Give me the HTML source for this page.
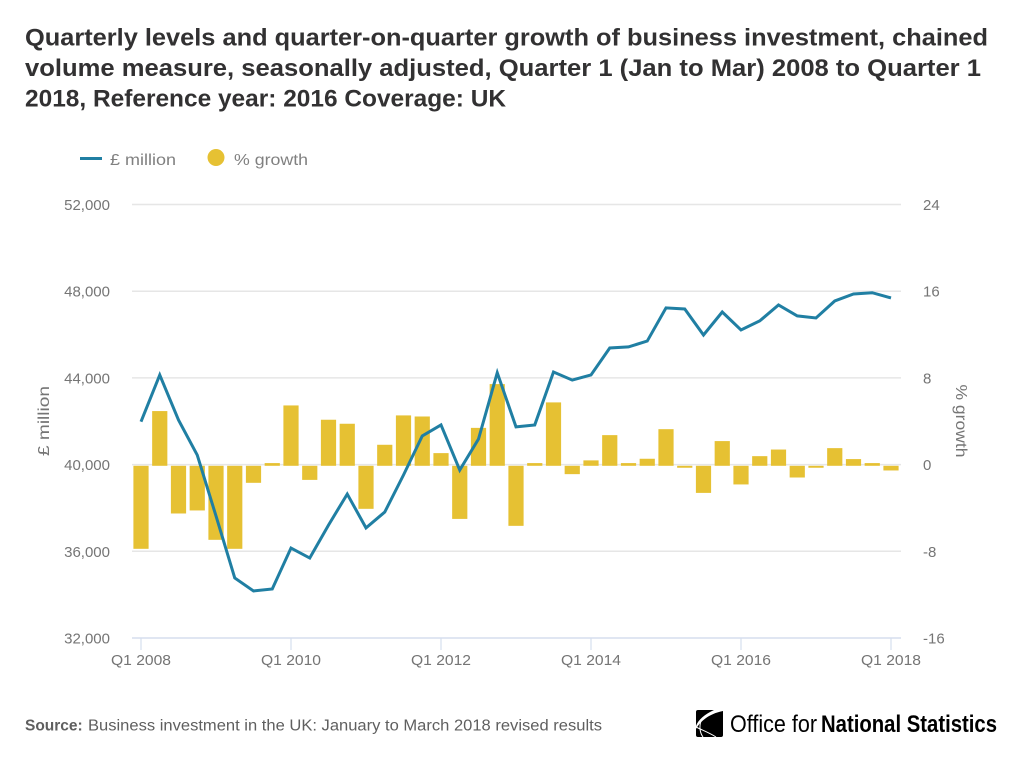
<!DOCTYPE html>
<html lang="en">
<head>
<meta charset="utf-8">
<title>Quarterly levels and growth of business investment</title>
<style>
html,body{margin:0;padding:0;background:#fff;}
svg{display:block;font-family:"Liberation Sans",sans-serif;}
.title{font-size:24px;font-weight:700;fill:#323132;}
.tick{font-size:15px;fill:#757575;}
.legend{font-size:16px;fill:#808080;}
</style>
</head>
<body>
<svg id="chart" width="1024" height="761" viewBox="0 0 1024 761" xmlns="http://www.w3.org/2000/svg">
  <rect width="1024" height="761" fill="#fff"/>
  <g>
    <text class="title" x="25" y="45.5" textLength="963" lengthAdjust="spacingAndGlyphs">Quarterly levels and quarter-on-quarter growth of business investment, chained</text>
    <text class="title" x="25" y="76" textLength="956" lengthAdjust="spacingAndGlyphs">volume measure, seasonally adjusted, Quarter 1 (Jan to Mar) 2008 to Quarter 1</text>
    <text class="title" x="25" y="106.5" textLength="481" lengthAdjust="spacingAndGlyphs">2018, Reference year: 2016 Coverage: UK</text>
  </g>
  <g>
    <g>
      <line x1="80" y1="158.5" x2="102" y2="158.5" stroke="#207fa3" stroke-width="3"/>
      <text class="legend" x="110" y="165" textLength="66" lengthAdjust="spacingAndGlyphs">£ million</text>
    </g>
    <g>
      <circle cx="216" cy="157.5" r="8.5" fill="#e6c133"/>
      <text class="legend" x="234" y="165" textLength="74" lengthAdjust="spacingAndGlyphs">% growth</text>
    </g>
  </g>
  <g id="grid"></g>
  <g id="bars"></g>
  <g id="xaxis"></g>
  <path id="series-line" fill="none" stroke="#207fa3" stroke-width="3" stroke-linejoin="miter"/>
  <g id="yleft"></g>
  <g id="yright"></g>
  <text class="tick" transform="translate(49 421) rotate(-90)" text-anchor="middle" textLength="70" lengthAdjust="spacingAndGlyphs" style="font-size:16px">£ million</text>
  <text class="tick" transform="translate(956 421) rotate(90)" text-anchor="middle" textLength="73" lengthAdjust="spacingAndGlyphs" style="font-size:16px">% growth</text>
  <text x="25" y="730.5" font-size="15.5" font-weight="700" fill="#5f5f5f">Source:</text>
  <text x="88" y="730.5" font-size="15.5" fill="#5f5f5f" textLength="514" lengthAdjust="spacingAndGlyphs">Business investment in the UK: January to March 2018 revised results</text>
  <g>
    <path d="M698 710 H723 V735 Q723 737 721 737 H698 Q696 737 696 735 V712 Q696 710 698 710 Z" fill="#000"/>
    <path d="M714 710 C705 714 698 720 696 726 L696 729 C700 722 708 714 723 711 L723 710 Z" fill="#fff"/>
    <path d="M701 721 C699 727 700 733 703 737" fill="none" stroke="#fff" stroke-width="1"/>
    <path d="M696 727 C702 730 710 733 716 737" fill="none" stroke="#fff" stroke-width="1"/>
    <text x="730" y="732" font-size="24" fill="#000" textLength="87" lengthAdjust="spacingAndGlyphs">Office for</text>
    <text x="821" y="732" font-size="24" font-weight="700" fill="#000" textLength="176" lengthAdjust="spacingAndGlyphs">National Statistics</text>
  </g>
</svg>
<script>
const quarterCount = 41;
const firstYear = 2008;
const millionValues = [41980,44135,42060,40440,37630,34770,34170,34260,36150,35690,37210,38640,37080,37810,39520,41320,41830,39750,41180,44240,41740,41830,44270,43900,44135,45380,45430,45700,47230,47180,45980,47040,46210,46630,47365,46860,46765,47550,47870,47930,47690];
const growthValues = [-7.66,5.05,-4.4,-4.12,-6.83,-7.66,-1.57,0.25,5.57,-1.3,4.25,3.88,-3.97,1.94,4.65,4.55,1.17,-4.9,3.5,7.54,-5.54,0.25,5.85,-0.77,0.5,2.83,0.25,0.65,3.38,-0.18,-2.5,2.28,-1.72,0.89,1.5,-1.08,-0.18,1.63,0.62,0.25,-0.43];
const leftTicks = [52000,48000,44000,40000,36000,32000];
const rightTicks = [24,16,8,0,-8,-16];
const xTickYears = [2008,2010,2012,2014,2016,2018];

const NS = 'http://www.w3.org/2000/svg';
const xOf = i => 141 + i * 18.75;
const yLeft = v => 638 - (v - 32000) * 433.5 / 20000;
const yRight = v => 638 - (v + 16) * 433.5 / 40;
const barY = v => yRight(v) + 1.2;
const mk = (tag, parent) => { const e = document.createElementNS(NS, tag); parent.appendChild(e); return e; };

const grid = document.getElementById('grid');
const yl = document.getElementById('yleft');
const yr = document.getElementById('yright');
leftTicks.forEach((t, i) => {
  const y = yLeft(t);
  if (t !== 32000) {
    const g = mk('line', grid);
    
    
    g.setAttribute('x1', 132); g.setAttribute('x2', 901);
    g.setAttribute('y1', y); g.setAttribute('y2', y);
    g.setAttribute('stroke', '#e6e6e6'); g.setAttribute('stroke-width', 1.5);
  }
  const a = mk('text', yl);
  
  
  a.setAttribute('class', 'tick');
  a.setAttribute('x', 110); a.setAttribute('y', y + 5.5);
  a.setAttribute('text-anchor', 'end');
  a.textContent = t.toLocaleString('en-GB');
  const b = mk('text', yr);
  
  
  b.setAttribute('class', 'tick');
  b.setAttribute('x', 923); b.setAttribute('y', yRight(rightTicks[i]) + 5.5);
  b.textContent = rightTicks[i];
});

const bars = document.getElementById('bars');
growthValues.forEach((v, i) => {
  const r = mk('rect', bars);
  
  
  const y0 = barY(0), y1 = barY(v);
  r.setAttribute('x', xOf(i) - 7.6);
  r.setAttribute('width', 15.2);
  r.setAttribute('y', Math.min(y0, y1));
  r.setAttribute('height', Math.abs(y1 - y0));
  r.setAttribute('fill', '#e6c133');
});

const xa = document.getElementById('xaxis');
const axis = mk('line', xa);


axis.setAttribute('x1', 132); axis.setAttribute('x2', 901);
axis.setAttribute('y1', 638); axis.setAttribute('y2', 638);
axis.setAttribute('stroke', '#d5deee'); axis.setAttribute('stroke-width', 1.5);
xTickYears.forEach(yr0 => {
  const x = xOf((yr0 - firstYear) * 4);
  const t = mk('line', xa);
  
  
  t.setAttribute('x1', x); t.setAttribute('x2', x);
  t.setAttribute('y1', 638); t.setAttribute('y2', 650);
  t.setAttribute('stroke', '#d5deee'); t.setAttribute('stroke-width', 1.2);
  const l = mk('text', xa);
  
  
  l.setAttribute('class', 'tick');
  l.setAttribute('x', x); l.setAttribute('y', 665);
  l.setAttribute('text-anchor', 'middle');
  l.setAttribute('textLength', 60);
  l.setAttribute('lengthAdjust', 'spacingAndGlyphs');
  l.textContent = 'Q1 ' + yr0;
});

document.getElementById('series-line').setAttribute('d',
  millionValues.slice(0, quarterCount).map((v, i) => (i ? 'L' : 'M') + xOf(i) + ' ' + yLeft(v)).join(' '));
</script>
</body>
</html>
